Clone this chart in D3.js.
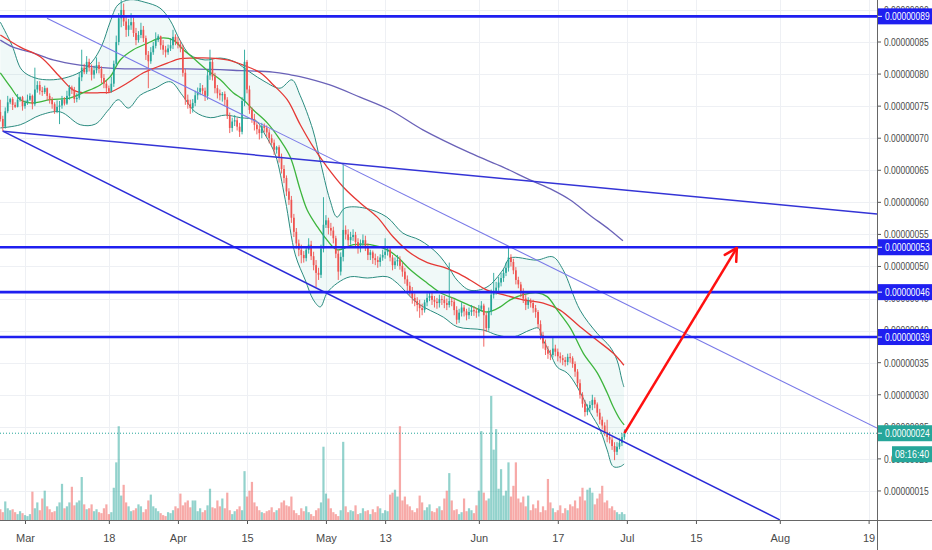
<!DOCTYPE html>
<html>
<head>
<meta charset="utf-8">
<script src="https://cdn.jsdelivr.net/npm/d3@7"></script>
<style>
  body { margin: 0; background: #fff; }
  svg text { font-family: "Liberation Sans", Arial, sans-serif; }
</style>
</head>
<body>
<div id="chart"></div>
<script>
// 12h candles from 2019-02-24 00:00 UTC, prices in units of 1e-8
const firstOpen = 74.1;
const closes = [
  73.0,71.8, 74.2,75.6, 76.1,75.2, 74.9,76.0, 76.4,75.0, 75.5,76.0, 76.6,75.3, 77.6,78.3, 77.4,77.2, 77.8,76.6,
  76.0,75.3, 74.2,74.9, 75.1,76.0, 75.4,76.6, 77.9,77.5, 76.1,76.3, 79.5,81.0, 80.3,81.9, 81.0,79.9, 80.6,81.4,
  80.8,79.4, 78.5,77.8, 77.3,78.5, 81.6,85.0, 88.7,90.0, 88.2,86.9, 87.6,88.1, 86.4,85.3, 86.1,86.9, 85.6,83.0,
  82.0,83.4, 84.4,85.3, 85.9,84.5, 83.8,83.4, 84.0,84.5, 85.8,85.0, 84.6,84.1, 80.2,76.0, 75.3,74.7, 75.5,76.7,
  77.2,77.8, 77.4,76.6, 79.8,81.9, 79.6,77.8, 77.0,76.7, 76.9,76.0, 73.5,71.6, 72.6,72.8, 71.8,71.0, 75.8,81.9,
  77.6,74.4, 73.0,72.1, 71.4,70.8, 71.9,71.6, 70.9,70.0, 69.3,68.2, 68.6,67.1, 65.2,63.8, 61.7,60.4, 57.6,55.4,
  53.6,52.6, 51.8,51.3, 52.6,53.4, 51.6,50.2, 49.0,48.7, 52.8,56.5, 57.2,56.0, 55.6,54.4, 52.0,49.2, 51.5,55.7,
  55.0,54.1, 54.6,54.9, 53.8,52.9, 53.6,54.1, 53.0,51.8, 52.2,51.3, 51.0,50.7, 51.4,51.8, 52.3,52.6, 51.4,50.2,
  50.8,51.0, 50.1,49.2, 48.0,47.0, 46.1,45.1, 44.6,44.0, 43.5,43.2, 44.4,45.1, 45.4,44.8, 44.5,44.3, 44.9,44.8,
  44.3,44.0, 44.6,44.5, 43.2,41.7, 42.8,43.6, 43.0,42.4, 42.9,43.2, 43.0,42.8, 43.4,43.9, 42.4,40.4, 43.0,45.6,
  46.2,46.7, 47.5,48.2, 49.0,49.8, 51.4,50.7, 49.4,47.9, 47.2,46.0, 45.0,44.0, 44.6,44.3, 43.5,42.9, 41.0,39.3,
  38.0,37.0, 36.4,36.2, 37.2,36.7, 36.0,35.7, 35.4,35.1, 35.9,35.7, 34.8,33.6, 31.8,30.0, 28.6,27.3, 27.9,28.4,
  29.2,28.5, 27.2,26.1, 25.2,24.2, 23.4,23.0, 22.0,21.1, 21.9,22.5, 23.4,24.0
];
const highs = [
  76.0,73.5, 74.8,76.6, 76.3,76.4, 75.6,76.9, 76.5,76.6, 75.9,76.8, 77.0,76.8, 81.0,78.9, 78.9,78.0, 78.2,77.9,
  77.0,76.4, 75.6,75.9, 75.8,76.6, 76.4,77.4, 78.3,78.2, 78.0,77.0, 80.2,83.8, 81.6,82.8, 82.4,81.5, 81.3,82.6,
  81.9,81.2, 80.0,79.0, 78.2,79.6, 82.1,86.0, 89.5,92.5, 91.0,89.0, 88.6,89.5, 88.8,87.2, 86.7,88.0, 87.5,86.0,
  83.6,84.2, 85.0,86.5, 86.2,86.0, 85.3,84.4, 84.6,85.6, 86.9,86.2, 85.8,85.2, 84.6,80.8, 76.8,76.0, 76.1,77.4,
  77.9,78.6, 78.3,77.9, 80.6,83.8, 82.4,80.2, 78.3,77.6, 77.2,77.3, 76.4,74.0, 73.2,73.6, 73.2,72.4, 76.4,83.8,
  82.2,78.2, 74.8,73.8, 72.6,72.0, 72.4,72.3, 72.0,71.4, 70.6,69.8, 68.8,68.9, 67.6,65.8, 64.2,62.2, 61.0,58.2,
  56.0,54.2, 53.4,52.4, 53.1,54.4, 54.0,52.3, 51.0,49.8, 53.4,60.8, 58.0,57.6, 56.8,56.2, 54.8,52.6, 52.2,66.1,
  56.4,55.8, 55.4,55.8, 55.4,54.4, 54.2,55.0, 54.8,53.6, 52.6,52.5, 52.0,51.6, 51.9,52.6, 54.4,53.2, 53.0,51.8,
  51.4,51.8, 51.6,50.6, 49.8,48.6, 47.6,46.8, 45.8,45.2, 44.8,44.2, 44.8,45.8, 46.0,45.9, 45.4,45.1, 45.6,45.5,
  45.4,45.0, 50.6,45.2, 44.9,43.8, 43.4,44.4, 44.0,43.4, 43.6,44.0, 43.8,43.5, 44.0,44.6, 44.2,42.8, 43.6,46.4,
  49.0,47.6, 48.4,49.0, 49.6,50.6, 52.9,51.9, 51.2,49.9, 48.4,47.6, 46.6,45.6, 45.2,45.0, 44.8,44.0, 43.2,41.6,
  39.8,38.6, 37.6,37.0, 39.0,37.8, 37.2,36.6, 36.2,35.9, 36.4,36.5, 36.0,35.2, 34.0,32.4, 30.4,29.2, 28.5,29.0,
  30.0,29.6, 28.8,27.8, 26.6,25.7, 26.1,24.2, 23.4,22.6, 22.6,23.2, 24.0,24.6
];
const lows = [
  72.6,71.1, 71.5,73.9, 75.3,74.4, 74.7,74.8, 75.7,74.3, 74.6,75.2, 75.8,74.5, 75.0,77.1, 76.8,76.6, 76.9,75.9,
  75.4,74.6, 73.8,73.9, 72.2,74.6, 75.1,75.2, 76.0,76.9, 75.5,75.6, 76.0,78.9, 80.0,80.0, 80.4,79.0, 79.3,80.1,
  80.1,78.6, 77.8,76.9, 77.0,77.1, 78.0,81.2, 84.5,87.3, 87.5,85.8, 85.9,86.9, 85.8,84.5, 84.9,85.6, 85.0,82.2,
  77.8,81.6, 83.0,84.0, 85.0,83.8, 83.0,82.6, 83.0,83.6, 83.9,84.5, 84.0,83.4, 79.6,75.2, 74.6,73.8, 74.0,75.0,
  76.0,76.7, 76.8,75.8, 76.0,79.1, 79.0,77.0, 76.2,75.9, 75.7,75.0, 73.0,70.8, 71.0,71.9, 71.2,70.2, 70.6,75.0,
  77.0,73.8, 72.4,71.2, 70.6,69.8, 70.0,70.9, 70.2,69.2, 68.9,67.4, 67.6,66.2, 64.5,63.0, 61.0,59.6, 56.8,54.6,
  52.8,51.6, 50.5,50.6, 50.8,52.0, 51.0,49.4, 46.8,47.9, 48.2,52.2, 56.0,55.0, 54.8,53.6, 51.3,47.9, 48.6,50.8,
  54.2,53.2, 53.4,54.0, 53.1,52.0, 52.2,53.0, 52.4,51.0, 51.0,50.4, 50.2,49.8, 50.0,50.9, 51.2,51.7, 50.8,49.4,
  49.6,50.1, 49.5,48.4, 47.3,46.2, 45.4,44.2, 43.8,43.0, 42.0,42.4, 42.8,43.8, 44.6,44.0, 43.6,43.4, 43.6,44.0,
  43.5,43.2, 43.6,43.8, 42.4,41.0, 41.2,42.2, 42.2,41.6, 41.8,42.3, 42.3,42.0, 42.2,43.0, 37.5,39.8, 40.0,42.4,
  45.0,45.6, 46.2,46.9, 47.6,48.5, 49.2,50.0, 48.8,47.2, 46.6,45.2, 44.3,43.2, 43.4,43.6, 42.8,42.0, 40.4,38.6,
  37.2,36.2, 35.6,35.4, 35.8,36.0, 35.2,35.0, 34.6,34.4, 34.6,35.0, 34.2,32.8, 31.2,29.4, 28.0,26.6, 26.8,27.4,
  27.6,27.9, 26.6,25.4, 24.6,23.6, 22.6,22.4, 21.4,19.8, 20.6,21.5, 22.0,23.0
];
const volumes = [
  11,8,19,12,10,11,8,6,9,7,  5,4,6,29,12,18,10,22,30,14,  11,8,9,14,18,37,12,14,18,34,
  15,18,20,44,16,11,12,16,9,11,  8,7,12,16,6,8,33,59,96,25,  36,18,14,9,10,12,16,14,8,11,
  20,26,14,12,9,7,5,4,8,7,  10,14,12,27,15,18,20,13,20,20,  9,12,8,10,15,32,13,12,20,14,
  22,12,28,10,6,9,11,14,10,50,  24,30,39,18,14,10,8,7,9,10,  13,8,10,12,18,20,15,14,24,10,
  7,5,12,9,14,8,6,4,10,12,  18,75,27,22,12,8,6,4,10,80,  14,8,10,9,15,6,7,12,9,10,
  6,11,8,14,12,7,10,9,26,28,  31,24,96,20,24,16,14,10,8,12,  25,18,10,13,16,9,8,12,14,10,
  22,30,48,20,10,11,6,8,22,9,  12,10,7,15,30,91,28,20,22,127,  72,93,32,52,25,30,59,24,35,59,
  22,18,24,14,25,10,16,12,20,8,  14,10,42,18,12,8,10,15,7,12,  10,16,14,20,12,24,33,20,31,33,
  28,16,22,27,35,18,20,12,14,10,  8,6,8,6
];

// indicator lines: [candle index, price]
const bbUpper = [[0,88.1],[4.7,84.5],[8.8,80.6],[14.1,79.4],[20.1,79.1],[26.2,79.4],[32.3,80.3],[37.2,81.9],[41.2,84.5],[44.5,88.1],[47.7,90.8],[52.6,91.6],[58.6,91.2],[64.7,90.3],[68.8,88.4],[72.8,85.3],[76.9,83.0],[83.0,82.2],[89.1,82.5],[95.1,81.9],[101.2,80.3],[107.3,78.8],[113.4,77.8],[118.2,79.1],[121.5,76.7],[126.7,71.3],[129.6,66.6],[133.6,60.4],[136.5,57.7],[139.7,59.1],[147.8,59.1],[156.7,57.7],[163.2,55.2],[170.1,54.1],[177.0,52.1],[182.3,49.5],[185.1,47.9],[190.4,46.3],[197.3,46.8],[203.8,49.5],[206.6,51.3],[217.5,51.0],[224.0,51.5],[228.1,49.5],[235.0,43.2],[241.9,39.6],[247.1,37.5],[250.0,35.4],[252.0,32.3],[252.8,31.2]];
const bbLower = [[0,71.6],[8.1,72.1],[16.2,73.6],[24.3,74.1],[32.4,72.1],[38.5,72.2],[43.8,74.4],[47.8,76.0],[51.9,74.7],[56.7,76.7],[62.8,77.8],[68.9,78.8],[73.8,76.7],[79.0,74.1],[85.1,73.2],[91.2,73.6],[97.3,73.2],[103.4,72.8],[107.4,70.5],[111.5,67.4],[115.5,60.4],[119.6,51.8],[123.6,47.9],[126.9,44.8],[129.7,43.7],[132.5,45.9],[136.6,47.4],[141.9,48.4],[148.8,48.2],[156.9,48.4],[160.9,47.4],[169.0,44.3],[179.6,42.1],[185.2,40.6],[195.8,40.1],[201.5,39.3],[207.9,39.0],[214.8,40.1],[218.1,40.4],[220.1,38.5],[222.9,36.5],[225.8,34.3],[229.8,33.4],[233.9,31.2],[239.2,27.2],[243.2,24.5],[246.0,21.4],[248.5,18.8],[251.3,18.8],[252.9,19.2]];
const maFast = [[0,80.2],[4.1,78.0],[8.1,76.0],[12.2,75.5],[20.3,76.0],[28.4,76.3],[33.6,77.1],[40.5,78.3],[44.6,79.6],[48.6,82.2],[53.9,83.8],[59.6,84.8],[64.8,85.6],[70.1,85.3],[74.2,83.8],[78.2,82.5],[83.9,80.6],[89.2,79.1],[94.4,77.1],[98.5,76.0],[102.6,74.4],[108.2,72.4],[113.5,69.7],[117.5,67.1],[121.6,61.9],[124.4,58.8],[128.5,56.2],[132.5,54.1],[136.6,52.6],[143.1,53.4],[150.0,53.4],[156.9,52.6],[160.9,51.5],[166.2,49.5],[173.1,47.4],[178.4,45.9],[185.2,44.8],[191.7,43.7],[197.3,42.9],[202.7,43.7],[206.7,44.8],[212.0,45.6],[217.7,45.9],[221.7,45.3],[225.8,43.2],[231.1,40.4],[236.3,36.5],[242.0,33.4],[246.0,30.3],[248.5,28.1],[251.3,26.1],[252.9,25.3]];
const maSlow = [[0,86.1],[8.1,84.2],[16.2,82.7],[24.3,79.5],[29.6,77.5],[33.6,77.1],[40.5,77.1],[44.6,77.2],[51.5,78.6],[58.0,80.2],[63.6,81.1],[67.7,81.7],[72.9,82.4],[78.2,82.5],[85.1,82.5],[92.0,82.2],[98.5,81.4],[105.4,80.2],[110.7,78.3],[116.3,76.0],[121.6,72.1],[126.9,68.6],[132.5,65.5],[139.0,62.4],[145.9,59.9],[152.8,57.7],[159.3,54.6],[166.2,52.1],[173.1,50.6],[179.6,49.9],[185.2,49.0],[190.4,47.9],[197.3,46.3],[203.8,45.6],[211.9,44.8],[220.1,44.3],[226.9,43.2],[235.0,40.6],[241.9,38.5],[248.4,36.5],[252.8,34.6]];
const ma200 = [[0,85.3],[5.2,84.2],[13.3,83.3],[21.4,82.2],[32.3,81.4],[45.7,80.9],[60.7,80.8],[75.7,80.8],[94.3,80.6],[110.5,80.3],[117.4,79.9],[121.5,79.6],[133.6,78.3],[145.8,76.4],[158.0,74.4],[171.3,71.3],[190.4,67.7],[203.8,65.5],[214.7,63.5],[224.0,61.9],[230.9,60.4],[239.0,58.0],[247.1,55.7],[252.4,54.0]];

// drawings
const levels = [89, 53, 46, 39];
const channelLow = [["2019-02-24T12:00Z", 71.1], ["2019-08-01T00:00Z", 10.5]];
const channelHigh = [["2019-03-05T11:00Z", 88.7], ["2019-08-20T16:48Z", 24.8]];
const flatLine = [["2019-02-24T12:00Z", 71.1], ["2019-08-20T16:48Z", 58.2]];
const arrow = [["2019-06-30T12:00Z", 24.0], ["2019-07-23T07:00Z", 52.9]];
const lastPrice = 24;
const countdown = "08:16:40";

const priceTicks = [15, 20, 25, 30, 35, 40, 45, 50, 55, 60, 65, 70, 75, 80, 85, 90];
const dateTicks = ["2019-03-01","2019-03-18","2019-04-01","2019-04-15","2019-05-01","2019-05-13",
                   "2019-06-01","2019-06-17","2019-07-01","2019-07-15","2019-08-01","2019-08-19"];
const dateLabels = ["Mar","18","Apr","15","May","13","Jun","17","Jul","15","Aug","19"];

const W = 932, H = 550, plotW = 877, plotH = 520;
const T0 = Date.UTC(2019, 1, 24);
const HALF = 12 * 3600 * 1000;
const kTime = k => new Date(T0 + k * HALF);

const candles = closes.map((c, i) => ({
  t: kTime(i), o: i === 0 ? firstOpen : closes[i - 1], h: highs[i], l: lows[i], c: c, v: volumes[i]
}));

const x = d3.scaleUtc()
  .domain([new Date(Date.UTC(2019, 1, 23, 22, 24)), new Date(Date.UTC(2019, 7, 20, 16, 48))])
  .range([0, plotW]);
const y = d3.scaleLinear().domain([10.47, 91.55]).range([plotH, 0]);
const yVol = d3.scaleLinear().domain([0, 130]).range([plotH, plotH - 127]);
const fmt = p => (p * 1e-8).toFixed(8);

const UP = "#26a69a", DOWN = "#ef5350", BLUE = "#1f1ff0";
const SQUEEZE = 0.77;  // narrow axis font look

const svg = d3.select("#chart").append("svg").attr("width", W).attr("height", H);
svg.append("defs").append("clipPath").attr("id", "plot")
  .append("rect").attr("width", plotW).attr("height", plotH);

// grid
const grid = svg.append("g").attr("stroke", "#eef0f4").attr("stroke-width", 1);
grid.selectAll(".hg").data(priceTicks).enter().append("line")
  .attr("x1", 0).attr("x2", plotW)
  .attr("y1", d => Math.round(y(d)) + 0.5).attr("y2", d => Math.round(y(d)) + 0.5);
grid.selectAll(".vg").data(dateTicks).enter().append("line")
  .attr("y1", 0).attr("y2", plotH)
  .attr("x1", d => Math.round(x(new Date(d))) + 0.5).attr("x2", d => Math.round(x(new Date(d))) + 0.5);

const plot = svg.append("g").attr("clip-path", "url(#plot)");

// volume
plot.append("g").selectAll("rect").data(candles).enter().append("rect")
  .attr("x", d => x(d.t) - 1.1)
  .attr("width", 2.2)
  .attr("y", d => yVol(d.v))
  .attr("height", d => plotH - yVol(d.v))
  .attr("fill", d => d.c >= d.o ? UP : DOWN)
  .attr("fill-opacity", 0.5);

// bollinger fill + lines
const line = d3.line().x(d => x(kTime(d[0]))).y(d => y(d[1])).curve(d3.curveCatmullRom.alpha(0.5));
const bandPath = line(bbUpper) + "L" + line(bbLower.slice().reverse()).slice(1) + "Z";
plot.append("path").attr("d", bandPath).attr("fill", "#26a69a").attr("fill-opacity", 0.07);
plot.append("path").attr("d", line(bbUpper)).attr("fill", "none").attr("stroke", "#2b8c80").attr("stroke-width", 1);
plot.append("path").attr("d", line(bbLower)).attr("fill", "none").attr("stroke", "#2b8c80").attr("stroke-width", 1);

plot.append("path").attr("d", line(ma200)).attr("fill", "none").attr("stroke", "#6a62b8").attr("stroke-width", 1.3);
plot.append("path").attr("d", line(maSlow)).attr("fill", "none").attr("stroke", "#e53935").attr("stroke-width", 1.3);
plot.append("path").attr("d", line(maFast)).attr("fill", "none").attr("stroke", "#3db53d").attr("stroke-width", 1.3);

// candles
const cg = plot.append("g").selectAll("g").data(candles).enter().append("g")
  .attr("fill", d => d.c >= d.o ? UP : DOWN)
  .attr("stroke", d => d.c >= d.o ? UP : DOWN);
cg.append("line")
  .attr("x1", d => x(d.t)).attr("x2", d => x(d.t))
  .attr("y1", d => y(d.h)).attr("y2", d => y(d.l))
  .attr("stroke-width", 0.9);
cg.append("rect")
  .attr("x", d => x(d.t) - 0.85)
  .attr("width", 1.7)
  .attr("y", d => y(Math.max(d.o, d.c)))
  .attr("height", d => Math.max(0.8, Math.abs(y(d.o) - y(d.c))))
  .attr("stroke", "none");

// drawings
const seg = pts => pts.map(p => [x(new Date(p[0])), y(p[1])]);
const straight = d3.line();
plot.append("path").attr("d", straight(seg(channelLow))).attr("stroke", "#2a2ad8").attr("stroke-width", 1.5).attr("fill", "none");
plot.append("path").attr("d", straight(seg(channelHigh))).attr("stroke", "#7a7ae8").attr("stroke-width", 1.1).attr("fill", "none");
plot.append("path").attr("d", straight(seg(flatLine))).attr("stroke", "#3434d6").attr("stroke-width", 1.5).attr("fill", "none");
plot.selectAll(".lvl").data(levels).enter().append("line")
  .attr("x1", 0).attr("x2", plotW)
  .attr("y1", d => y(d)).attr("y2", d => y(d))
  .attr("stroke", BLUE).attr("stroke-width", 2.6);

// last price dotted line
plot.append("line")
  .attr("x1", 0).attr("x2", plotW)
  .attr("y1", y(lastPrice)).attr("y2", y(lastPrice))
  .attr("stroke", UP).attr("stroke-width", 1).attr("stroke-dasharray", "1,2");

// red arrow
const a = seg(arrow);
plot.append("path").attr("d", straight(a)).attr("stroke", "#ff1010").attr("stroke-width", 2.5).attr("fill", "none");
const ang = Math.atan2(a[1][1] - a[0][1], a[1][0] - a[0][0]);
const head = [-0.5, 0.5].map(s => [a[1][0] - 14 * Math.cos(ang + s), a[1][1] - 14 * Math.sin(ang + s)]);
plot.append("path")
  .attr("d", straight([head[0], a[1], head[1]]))
  .attr("stroke", "#ff1010").attr("stroke-width", 2.5).attr("fill", "none")
  .attr("stroke-linecap", "round").attr("stroke-linejoin", "round");

// right price axis (labels squeezed horizontally)
const yAxis = svg.append("g");
const yt = yAxis.selectAll("g").data(priceTicks).enter().append("g")
  .attr("transform", d => `translate(${plotW},${y(d)})`);
yt.append("line").attr("x1", 0).attr("x2", 4).attr("stroke", "#555");
yt.append("text")
  .attr("transform", `translate(7,0) scale(${SQUEEZE},1)`)
  .attr("dy", "0.35em").attr("fill", "#4a4a4a").style("font-size", "11px")
  .text(fmt);

const xAxis = svg.append("g").attr("transform", `translate(0,${plotH})`)
  .call(d3.axisBottom(x).tickValues(dateTicks.map(d => new Date(d))).tickFormat((d, i) => dateLabels[i]).tickSize(4).tickPadding(10));
xAxis.select(".domain").remove();
xAxis.selectAll("line").attr("stroke", "#555");
xAxis.selectAll("text").attr("fill", "#4a4a4a").style("font-size", "11px");

svg.append("line").attr("x1", plotW + 0.5).attr("x2", plotW + 0.5).attr("y1", 0).attr("y2", H)
  .attr("stroke", "#666").attr("stroke-width", 1);
svg.append("line").attr("x1", 0).attr("x2", W).attr("y1", plotH + 0.5).attr("y2", plotH + 0.5)
  .attr("stroke", "#666").attr("stroke-width", 1);

// price labels
const labels = levels.map(p => ({p: p, fill: BLUE})).concat([{p: lastPrice, fill: UP}]);
const lg = svg.append("g").selectAll("g").data(labels).enter().append("g")
  .attr("transform", d => `translate(${plotW + 1},${y(d.p)})`);
lg.append("rect").attr("x", 0).attr("y", -8).attr("width", W - plotW - 1).attr("height", 16).attr("fill", d => d.fill);
lg.append("line").attr("x1", 0).attr("x2", 4).attr("stroke", "#fff");
lg.append("text")
  .attr("transform", `translate(7,0) scale(${SQUEEZE},1)`)
  .attr("dy", "0.35em").attr("fill", "#fff").style("font-size", "11px")
  .text(d => fmt(d.p));

const cd = svg.append("g").attr("transform", `translate(${W - 40},${y(lastPrice) + 13})`);
cd.append("rect").attr("width", 40).attr("height", 16).attr("fill", UP);
cd.append("text")
  .attr("transform", `translate(20,8) scale(0.8,1)`)
  .attr("dy", "0.35em").attr("text-anchor", "middle")
  .attr("fill", "#fff").style("font-size", "11px")
  .text(countdown);
</script>
</body>
</html>
